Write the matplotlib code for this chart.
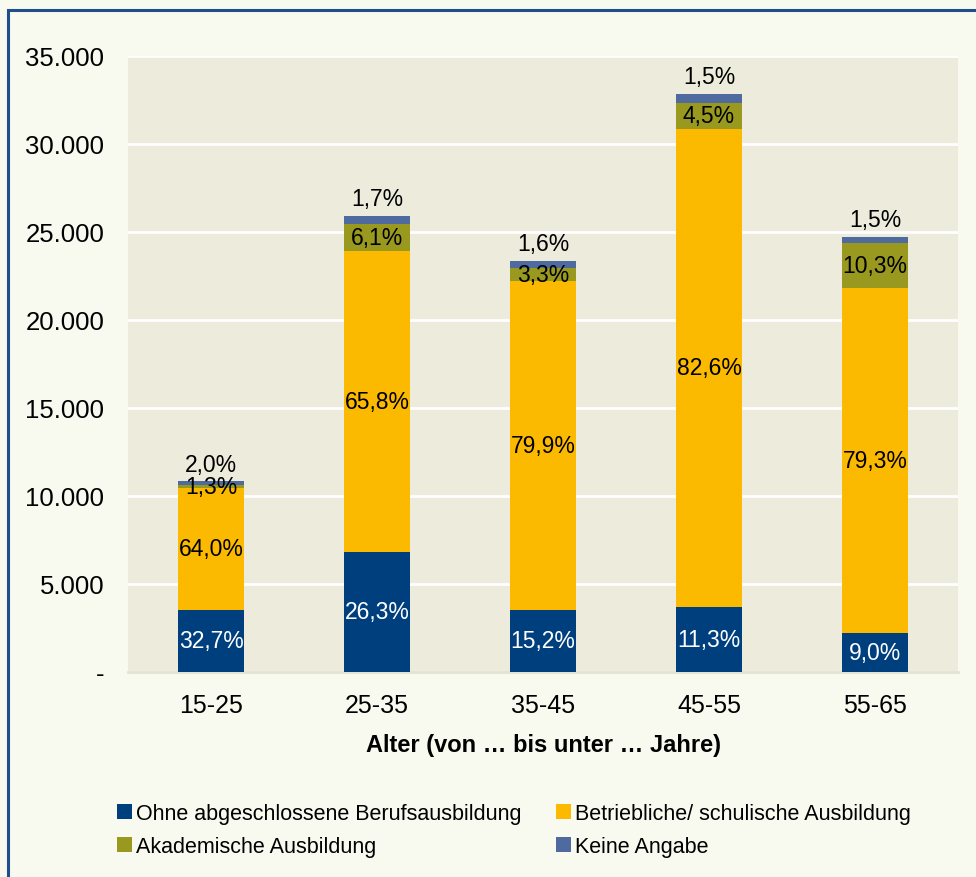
import matplotlib.pyplot as plt
from matplotlib.patches import Patch, Rectangle
from matplotlib.ticker import FuncFormatter

plt.rcParams['font.family'] = ['Liberation Sans', 'DejaVu Sans']

# Data
age_groups = ['15-25', '25-35', '35-45', '45-55', '55-65']
totals = [10840, 25950, 23350, 32880, 24700]
pct_ohne = [32.7, 26.3, 15.2, 11.3, 9.0]
pct_betrieb = [64.0, 65.8, 79.9, 82.6, 79.3]
pct_akad = [1.3, 6.1, 3.3, 4.5, 10.3]
pct_keine = [2.0, 1.7, 1.6, 1.5, 1.5]

series_names = ['Ohne abgeschlossene Berufsausbildung', 'Betriebliche/ schulische Ausbildung',
                'Akademische Ausbildung', 'Keine Angabe']
colors = ['#003F7D', '#FBB900', '#98991E', '#4F6A9E']
text_colors = ['white', 'black', 'black', 'black']


def fmt_pct(p):
    return f"{p:.1f}".replace('.', ',') + '%'


def fmt_y(v, pos):
    if v == 0:
        return '-'
    return f"{int(v):,}".replace(',', '.')


fig = plt.figure(figsize=(9.76, 8.78), dpi=100)
fig.patch.set_facecolor('#F8F9EF')
ax = fig.add_axes([128 / 976, 1 - 673 / 878, 830 / 976, 616 / 878])
ax.set_facecolor('#EDEBDC')

# frame around the chart (only left/top visible in the crop)
fig.add_artist(Rectangle((8 / 976, -0.05), 1.2, 1 - 11 / 878 + 0.05, transform=fig.transFigure,
                         fill=False, edgecolor='#1F4E8C', linewidth=2.2))

x = list(range(len(age_groups)))
bottoms = [0] * len(x)
all_pcts = [pct_ohne, pct_betrieb, pct_akad, pct_keine]
for k, pcts in enumerate(all_pcts):
    heights = [t * p / 100 for t, p in zip(totals, pcts)]
    ax.bar(x, heights, bottom=bottoms, width=0.4, color=colors[k], zorder=3)
    for i in x:
        if k == 3:
            ax.annotate(fmt_pct(pcts[i]), (i, bottoms[i] + heights[i]), xytext=(0, 4),
                        textcoords='offset points', ha='center', va='bottom',
                        fontsize=16.5, color='black', zorder=4)
        else:
            ax.text(i, bottoms[i] + heights[i] / 2, fmt_pct(pcts[i]), ha='center', va='center',
                    fontsize=16.5, color=text_colors[k], zorder=4)
    bottoms = [b + h for b, h in zip(bottoms, heights)]

ax.set_xlim(-0.5, 4.5)
ax.set_ylim(0, 35000)
ax.set_yticks(range(0, 35001, 5000))
ax.yaxis.set_major_formatter(FuncFormatter(fmt_y))
ax.grid(axis='y', color='white', linewidth=2, zorder=0)
ax.set_xticks(x)
ax.set_xticklabels(age_groups)
ax.tick_params(axis='both', length=0)
ax.tick_params(axis='y', pad=17, labelsize=18.5)
ax.tick_params(axis='x', pad=15, labelsize=18)
for s in ['top', 'right', 'left']:
    ax.spines[s].set_visible(False)
ax.spines['bottom'].set_color('#E4E2D2')
ax.spines['bottom'].set_linewidth(2)

ax.set_xlabel('Alter (von … bis unter … Jahre)', fontsize=17, fontweight='bold', labelpad=12)

# legend is filled column by column, so order for row-wise reading
order = [0, 2, 1, 3]
handles = [Patch(facecolor=colors[i], edgecolor='none') for i in order]
labels = [series_names[i] for i in order]
fig.legend(handles, labels, loc='upper left', bbox_to_anchor=(106 / 976, 1 - 793 / 878),
           ncol=2, frameon=False, fontsize=15.5, handlelength=0.7, handleheight=0.7,
           handletextpad=0.2, columnspacing=1.6, labelspacing=0.55, borderpad=0)

fig.savefig('out.png', dpi=100, facecolor=fig.get_facecolor())
